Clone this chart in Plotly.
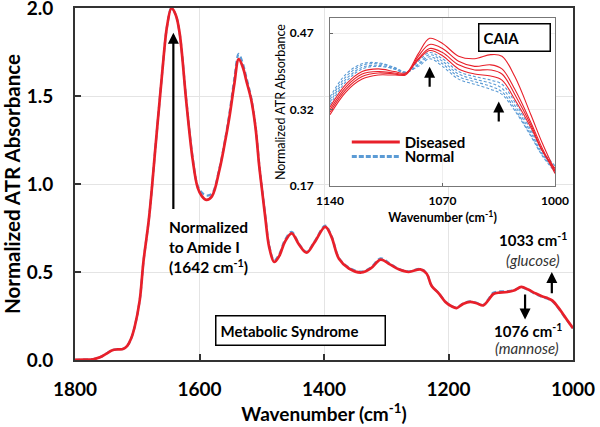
import plotly.graph_objects as go

# ---------------- main spectrum (Metabolic Syndrome) ----------------
WAVENUMBER = [1800, 1785, 1771, 1760, 1750, 1740, 1732, 1723, 1716, 1710, 1704, 1696, 1690,
              1681, 1670, 1660, 1652, 1645, 1638, 1632, 1621, 1611, 1603, 1596, 1589, 1580,
              1568, 1560, 1552, 1544, 1537, 1530, 1525, 1517, 1510, 1504, 1499, 1494, 1488,
              1480, 1472, 1463, 1452, 1440, 1428, 1415, 1398, 1388, 1376, 1360, 1340, 1325,
              1309, 1295, 1280, 1264, 1245, 1235, 1227, 1216, 1205, 1195, 1187, 1176, 1165,
              1155, 1144, 1136, 1128, 1118, 1109, 1095, 1083, 1072, 1061, 1050, 1040, 1033,
              1024, 1013, 1003, 1000]
DISEASED = [0.0, 0.002, 0.004, 0.015, 0.035, 0.055, 0.06, 0.062, 0.08, 0.12, 0.19, 0.34, 0.56,
            0.81, 1.24, 1.63, 1.90, 2.00, 1.96, 1.86, 1.46, 1.14, 0.98, 0.93, 0.91, 0.93,
            1.08, 1.22, 1.38, 1.57, 1.71, 1.66, 1.59, 1.48, 1.32, 1.10, 0.95, 0.80, 0.64,
            0.557, 0.59, 0.67, 0.72, 0.655, 0.61, 0.67, 0.757, 0.70, 0.575, 0.52, 0.497, 0.52,
            0.57, 0.545, 0.515, 0.50, 0.515, 0.49, 0.42, 0.38, 0.33, 0.305, 0.295, 0.32, 0.33,
            0.322, 0.31, 0.34, 0.375, 0.383, 0.385, 0.395, 0.415, 0.40, 0.38, 0.362, 0.35, 0.337,
            0.30, 0.245, 0.195, 0.18]
NORMAL = [0.0, 0.002, 0.004, 0.015, 0.036, 0.056, 0.061, 0.063, 0.08, 0.12, 0.19, 0.34, 0.56,
          0.81, 1.24, 1.63, 1.90, 2.00, 1.96, 1.86, 1.47, 1.15, 0.99, 0.95, 0.935, 0.945,
          1.09, 1.23, 1.40, 1.60, 1.74, 1.68, 1.61, 1.49, 1.33, 1.11, 0.96, 0.81, 0.65,
          0.565, 0.60, 0.68, 0.728, 0.66, 0.615, 0.675, 0.764, 0.705, 0.58, 0.525, 0.502, 0.525,
          0.577, 0.55, 0.518, 0.503, 0.517, 0.491, 0.421, 0.381, 0.332, 0.307, 0.297, 0.322, 0.333,
          0.325, 0.313, 0.345, 0.382, 0.39, 0.39, 0.397, 0.412, 0.398, 0.376, 0.358, 0.346, 0.333,
          0.297, 0.243, 0.194, 0.18]
MAIN_XTICKS = [1800, 1600, 1400, 1200, 1000]
MAIN_YTICKS = [0.0, 0.5, 1.0, 1.5, 2.0]

# ---------------- inset (CAIA) ----------------
INSET_WN = [1140, 1130, 1120, 1110, 1100, 1093, 1085, 1078, 1070, 1060, 1050, 1040, 1033,
            1025, 1015, 1008, 1000]
CAIA_DISEASED = [
    [0.310, 0.355, 0.380, 0.388, 0.388, 0.390, 0.430, 0.460, 0.450, 0.425, 0.420, 0.428, 0.425,
     0.385, 0.310, 0.255, 0.200],
    [0.315, 0.360, 0.385, 0.392, 0.390, 0.388, 0.425, 0.448, 0.440, 0.415, 0.405, 0.408, 0.400,
     0.360, 0.295, 0.245, 0.195],
    [0.320, 0.365, 0.390, 0.395, 0.392, 0.390, 0.420, 0.440, 0.432, 0.408, 0.398, 0.398, 0.390,
     0.350, 0.290, 0.240, 0.200],
    [0.325, 0.370, 0.395, 0.400, 0.395, 0.392, 0.418, 0.436, 0.426, 0.400, 0.390, 0.386, 0.378,
     0.340, 0.285, 0.240, 0.205],
]
CAIA_NORMAL = [
    [0.330, 0.375, 0.400, 0.405, 0.400, 0.393, 0.415, 0.432, 0.420, 0.395, 0.385, 0.378, 0.370,
     0.335, 0.280, 0.240, 0.210],
    [0.335, 0.380, 0.403, 0.407, 0.400, 0.392, 0.410, 0.428, 0.415, 0.390, 0.380, 0.372, 0.362,
     0.328, 0.275, 0.235, 0.205],
    [0.340, 0.385, 0.407, 0.410, 0.402, 0.393, 0.408, 0.424, 0.410, 0.385, 0.375, 0.366, 0.355,
     0.322, 0.270, 0.232, 0.200],
    [0.345, 0.390, 0.410, 0.412, 0.403, 0.394, 0.405, 0.420, 0.405, 0.380, 0.370, 0.360, 0.350,
     0.318, 0.268, 0.230, 0.198],
]
INSET_XTICKS = [1140, 1070, 1000]
INSET_YTICKS = [0.17, 0.32, 0.47]

RED = "#e8202a"
BLUE = "#5b9bd5"
FONT = "Lato"

fig = go.Figure()

# main plot
fig.add_trace(go.Scatter(x=WAVENUMBER, y=NORMAL, mode="lines",
                         line=dict(color=BLUE, width=2.2, dash="5px,3px", shape="spline"),
                         showlegend=False, xaxis="x", yaxis="y"))
fig.add_trace(go.Scatter(x=WAVENUMBER, y=DISEASED, mode="lines", line=dict(color=RED, width=2.7, shape="spline"),
                         showlegend=False, xaxis="x", yaxis="y"))

# inset
for s in CAIA_NORMAL:
    fig.add_trace(go.Scatter(x=INSET_WN, y=s, mode="lines",
                             line=dict(color=BLUE, width=1.1, dash="3px,2px", shape="spline"),
                             showlegend=False, xaxis="x3", yaxis="y3"))
for s in CAIA_DISEASED:
    fig.add_trace(go.Scatter(x=INSET_WN, y=s, mode="lines", line=dict(color=RED, width=1.1, shape="spline"),
                             showlegend=False, xaxis="x3", yaxis="y3"))
# legend entries
fig.add_trace(go.Scatter(x=[None], y=[None], mode="lines", name="Diseased", line=dict(color=RED, width=3),
                         xaxis="x3", yaxis="y3", legend="legend"))
fig.add_trace(go.Scatter(x=[None], y=[None], mode="lines", name="Normal",
                         line=dict(color=BLUE, width=3, dash="5px,2px"),
                         xaxis="x3", yaxis="y3", legend="legend2"))

bold = lambda s: dict(family=FONT, size=s, color="black", weight="bold")

fig.update_layout(
    width=600, height=427,
    margin=dict(l=0, r=0, t=0, b=0, autoexpand=False),
    paper_bgcolor="white", plot_bgcolor="white",
    xaxis=dict(domain=[0.125, 0.955], range=[1800, 1000], tickvals=MAIN_XTICKS,
               ticks="inside", ticklen=6, tickwidth=1.5, tickcolor="#333",
               showline=True, linecolor="#333", linewidth=2, mirror=True,
               showgrid=True, gridcolor="#e4e4e4", gridwidth=1, zeroline=False,
               tickfont=bold(19), ticklabelstandoff=11, ticklabeloverflow="allow",
               title=dict(text="Wavenumber (cm<sup>-1</sup>)", font=bold(19), standoff=4),
               anchor="y", automargin=False),
    yaxis=dict(domain=[0.157, 0.981], range=[0, 2.0], tickvals=MAIN_YTICKS, tickformat=".1f",
               ticks="inside", ticklen=6, tickwidth=1.5, tickcolor="#333",
               showline=True, linecolor="#333", linewidth=2, mirror=True,
               showgrid=True, gridcolor="#e4e4e4", gridwidth=1, zeroline=False,
               tickfont=bold(19), ticklabelstandoff=16, ticklabeloverflow="allow",
               title=dict(text="Normalized ATR Absorbance", font=bold(20.5), standoff=4),
               anchor="x", automargin=False),
    # inset frame (white box)
    xaxis2=dict(domain=[0.455, 0.957], range=[0, 1], showline=True, linecolor="black", linewidth=1.5,
                mirror=True, ticks="", showticklabels=False, showgrid=False, zeroline=False, anchor="y2",
                fixedrange=True, automargin=False),
    yaxis2=dict(domain=[0.480, 0.981], range=[0, 1], showline=True, linecolor="black", linewidth=1.5,
                mirror=True, ticks="", showticklabels=False, showgrid=False, zeroline=False, anchor="x2",
                fixedrange=True, automargin=False),
    xaxis3=dict(domain=[0.55, 0.925], range=[1140, 1000], tickvals=INSET_XTICKS,
                ticks="inside", ticklen=3, tickcolor="#666",
                showline=True, linecolor="#777", linewidth=1, mirror=True,
                showgrid=True, gridcolor="#eeeeee", zeroline=False,
                tickfont=bold(12), ticklabelstandoff=3, ticklabeloverflow="allow",
                title=dict(text="Wavenumber (cm<sup>-1</sup>)", font=bold(12.5), standoff=0),
                anchor="y3", automargin=False),
    yaxis3=dict(domain=[0.564, 0.958], range=[0.17, 0.50], tickvals=INSET_YTICKS, tickformat=".2f",
                ticks="inside", ticklen=3, tickcolor="#666",
                showline=True, linecolor="#777", linewidth=1, mirror=True,
                showgrid=True, gridcolor="#eeeeee", zeroline=False,
                tickfont=bold(12), ticklabelstandoff=13, ticklabeloverflow="allow",
                title=dict(text="Normalized ATR Absorbance", font=dict(family=FONT, size=12.5, color="black"), standoff=1),
                anchor="x3", automargin=False),
    legend=dict(x=0.578, y=0.667, xanchor="left", yanchor="middle", bgcolor="rgba(0,0,0,0)",
                font=bold(15), borderwidth=0, itemwidth=48),
    legend2=dict(x=0.578, y=0.633, xanchor="left", yanchor="middle", bgcolor="rgba(0,0,0,0)",
                 font=bold(15), borderwidth=0, itemwidth=48),
)

ann = []
arrow = dict(showarrow=True, arrowhead=2, arrowsize=1, arrowwidth=2.2, arrowcolor="black", text="")
# main plot arrows
ann.append(dict(x=1642, y=1.86, ax=1642, ay=0.85, xref="x", yref="y", axref="x", ayref="y", **arrow))
ann.append(dict(x=1034, y=0.50, ax=1034, ay=0.37, xref="x", yref="y", axref="x", ayref="y", **arrow))
ann.append(dict(x=1077, y=0.23, ax=1077, ay=0.38, xref="x", yref="y", axref="x", ayref="y", **arrow))
# inset arrows
ann.append(dict(x=1078, y=0.404, ax=1078, ay=0.362, xref="x3", yref="y3", axref="x3", ayref="y3", **arrow))
ann.append(dict(x=1035, y=0.336, ax=1035, ay=0.294, xref="x3", yref="y3", axref="x3", ayref="y3", **arrow))

def ptext(text, px, py, size=15, xanchor="center", italic=False, **kw):
    f = dict(family=FONT, size=size, color="black", weight="normal" if italic else "bold")
    if italic:
        f["style"] = "italic"
        f["color"] = "#333"
    return dict(text=text, x=px / 600, y=1 - py / 427, xref="paper", yref="paper",
                xanchor=xanchor, yanchor="middle", showarrow=False, font=f, align="left", **kw)

ann.append(ptext("Normalized<br>to Amide I<br>(1642 cm<sup>-1</sup>)", 167, 247, size=15.5, xanchor="left"))
ann.append(ptext("Metabolic Syndrome", 300.5, 330, bordercolor="black", borderwidth=1.5, borderpad=4,
                 bgcolor="white", width=160, height=20))
ann.append(ptext("1033 cm<sup>-1</sup>", 533, 240))
ann.append(ptext("(glucose)", 533, 260, italic=True))
ann.append(ptext("1076 cm<sup>-1</sup>", 528, 330))
ann.append(ptext("(mannose)", 527, 348, italic=True))
ann.append(ptext("CAIA", 514, 38, size=15, bordercolor="black", borderwidth=1.5, borderpad=4,
                 bgcolor="white", width=62, height=18))

fig.update_layout(annotations=ann)
fig.write_html("out.html", config={"displayModeBar": False},
               post_script="document.body.style.margin='0px';document.body.style.overflow='hidden';")
